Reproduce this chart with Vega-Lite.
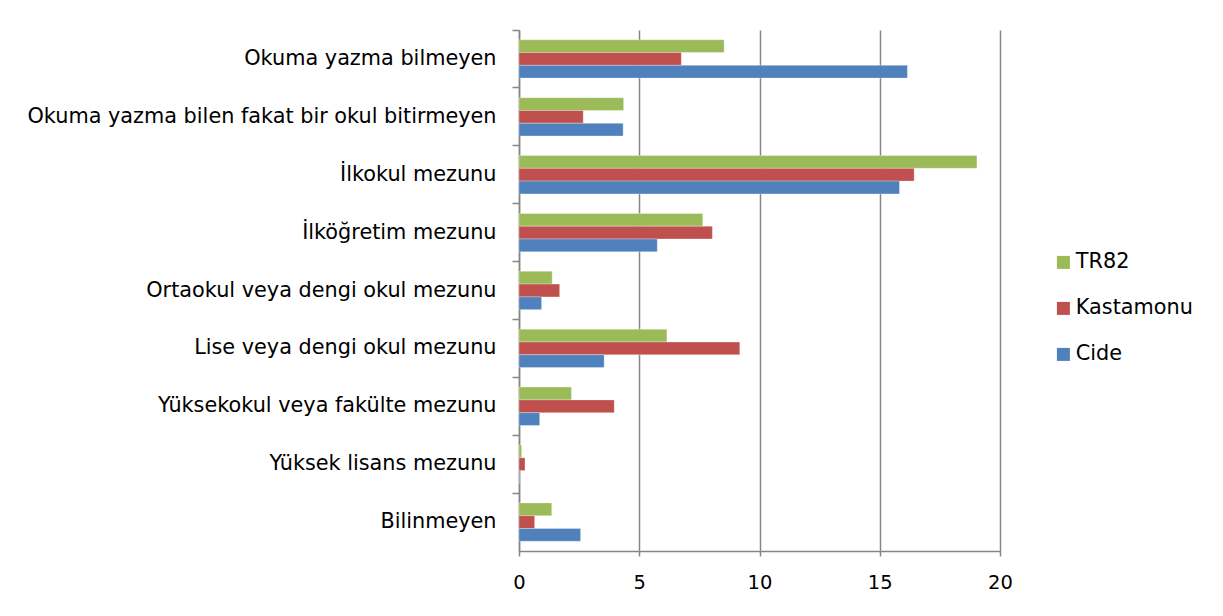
{
  "$schema": "https://vega.github.io/schema/vega-lite/v6.json",
  "width": 481,
  "height": 521,
  "autosize": {"type": "none"},
  "padding": {"left": 519, "top": 30, "right": 223, "bottom": 65},
  "background": "white",
  "config": {
    "view": {"stroke": null},
    "font": "DejaVu Sans"
  },
  "data": {
    "values": [
      {"category": "Okuma yazma bilmeyen", "series": "TR82", "value": 8.53},
      {"category": "Okuma yazma bilmeyen", "series": "Kastamonu", "value": 6.75},
      {"category": "Okuma yazma bilmeyen", "series": "Cide", "value": 16.15},
      {"category": "Okuma yazma bilen fakat bir okul bitirmeyen", "series": "TR82", "value": 4.35},
      {"category": "Okuma yazma bilen fakat bir okul bitirmeyen", "series": "Kastamonu", "value": 2.67},
      {"category": "Okuma yazma bilen fakat bir okul bitirmeyen", "series": "Cide", "value": 4.33},
      {"category": "İlkokul mezunu", "series": "TR82", "value": 19.04},
      {"category": "İlkokul mezunu", "series": "Kastamonu", "value": 16.43},
      {"category": "İlkokul mezunu", "series": "Cide", "value": 15.82},
      {"category": "İlköğretim mezunu", "series": "TR82", "value": 7.64},
      {"category": "İlköğretim mezunu", "series": "Kastamonu", "value": 8.04},
      {"category": "İlköğretim mezunu", "series": "Cide", "value": 5.75},
      {"category": "Ortaokul veya dengi okul mezunu", "series": "TR82", "value": 1.38},
      {"category": "Ortaokul veya dengi okul mezunu", "series": "Kastamonu", "value": 1.69},
      {"category": "Ortaokul veya dengi okul mezunu", "series": "Cide", "value": 0.94},
      {"category": "Lise veya dengi okul mezunu", "series": "TR82", "value": 6.15},
      {"category": "Lise veya dengi okul mezunu", "series": "Kastamonu", "value": 9.18},
      {"category": "Lise veya dengi okul mezunu", "series": "Cide", "value": 3.54},
      {"category": "Yüksekokul veya fakülte mezunu", "series": "TR82", "value": 2.18},
      {"category": "Yüksekokul veya fakülte mezunu", "series": "Kastamonu", "value": 3.96},
      {"category": "Yüksekokul veya fakülte mezunu", "series": "Cide", "value": 0.86},
      {"category": "Yüksek lisans mezunu", "series": "TR82", "value": 0.11},
      {"category": "Yüksek lisans mezunu", "series": "Kastamonu", "value": 0.25},
      {"category": "Yüksek lisans mezunu", "series": "Cide", "value": 0.03},
      {"category": "Bilinmeyen", "series": "TR82", "value": 1.36},
      {"category": "Bilinmeyen", "series": "Kastamonu", "value": 0.65},
      {"category": "Bilinmeyen", "series": "Cide", "value": 2.56}
    ]
  },
  "mark": {"type": "bar", "stroke": "white", "strokeWidth": 0.5, "strokeOpacity": 0.6},
  "encoding": {
    "y": {
      "field": "category",
      "type": "nominal",
      "sort": [
        "Okuma yazma bilmeyen",
        "Okuma yazma bilen fakat bir okul bitirmeyen",
        "İlkokul mezunu",
        "İlköğretim mezunu",
        "Ortaokul veya dengi okul mezunu",
        "Lise veya dengi okul mezunu",
        "Yüksekokul veya fakülte mezunu",
        "Yüksek lisans mezunu",
        "Bilinmeyen"
      ],
      "scale": {"paddingInner": 0, "paddingOuter": 0},
      "axis": {
        "title": null,
        "labelFontSize": 20.8,
        "labelColor": "black",
        "labelLimit": 0,
        "labelPadding": 16,
        "tickSize": 7,
        "tickColor": "#868686",
        "tickWidth": 1.5,
        "bandPosition": 0,
        "domainColor": "#868686",
        "domainWidth": 1.5
      }
    },
    "yOffset": {
      "field": "series",
      "type": "nominal",
      "sort": ["TR82", "Kastamonu", "Cide"],
      "scale": {"paddingInner": 0, "paddingOuter": 0.766}
    },
    "x": {
      "field": "value",
      "type": "quantitative",
      "scale": {"domain": [0, 20], "nice": false},
      "axis": {
        "title": null,
        "values": [0, 5, 10, 15, 20],
        "labelFontSize": 19.5,
        "labelColor": "black",
        "labelFlush": false,
        "labelPadding": 17,
        "tickSize": 5,
        "tickColor": "#868686",
        "tickWidth": 1.5,
        "domainColor": "#868686",
        "domainWidth": 1.5,
        "grid": true,
        "gridColor": "#868686",
        "gridWidth": 1.5
      }
    },
    "color": {
      "field": "series",
      "type": "nominal",
      "scale": {
        "domain": ["TR82", "Kastamonu", "Cide"],
        "range": ["#9BBB59", "#C0504D", "#4F81BD"]
      },
      "legend": {
        "title": null,
        "orient": "none",
        "legendX": 534,
        "legendY": 222,
        "symbolType": "square",
        "symbolSize": 169,
        "symbolStrokeWidth": 0,
        "labelFontSize": 20.8,
        "labelColor": "black",
        "labelOffset": 2,
        "rowPadding": 24
      }
    }
  }
}
